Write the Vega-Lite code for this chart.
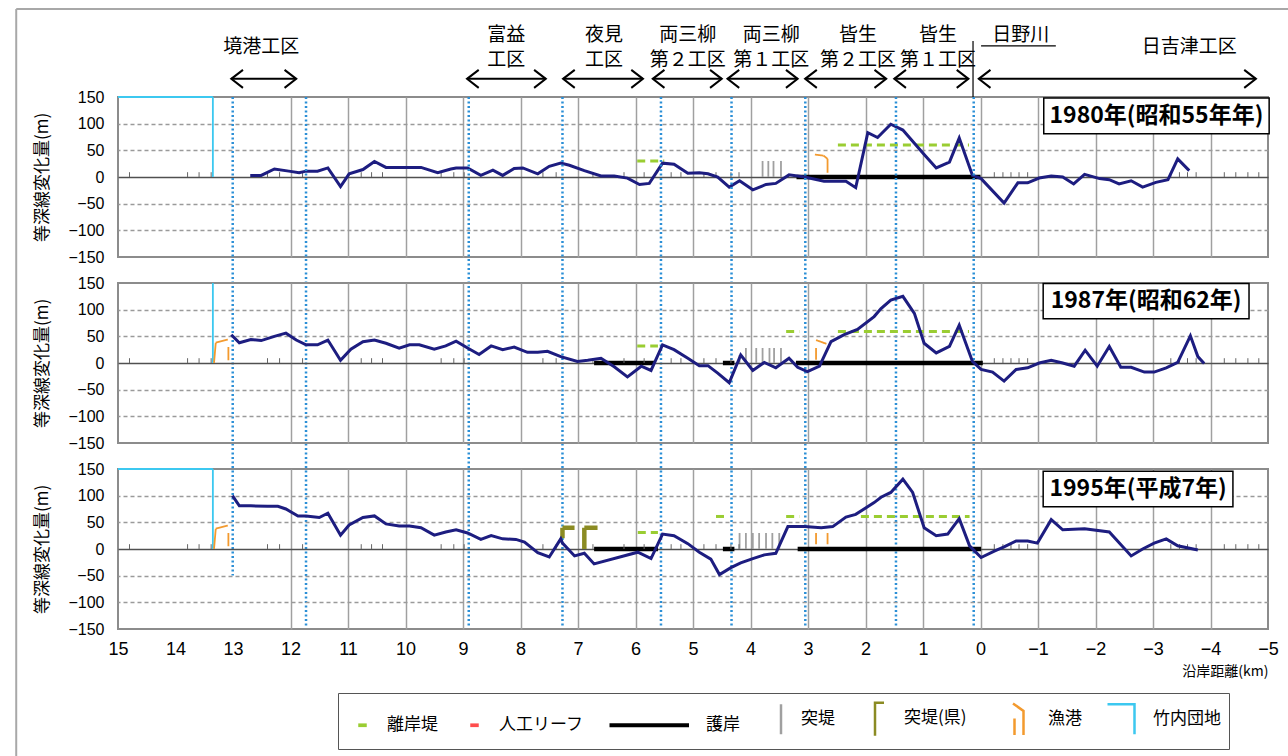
{
"$schema": "https://vega.github.io/schema/vega-lite/v6.json",
"padding": {"left": 14, "top": 7, "right": 0, "bottom": 0},
"background": "white",
"bounds": "flush",
"spacing": 26,
"config": {"view": {"stroke": "#8c8c8c", "strokeWidth": 2}, "font": "Noto Sans CJK JP"},
"resolve": {"scale": {"color": "shared", "shape": "shared"}, "legend": {"color": "shared", "shape": "shared"}},
"datasets": {
"lines": [
{"year":1980,"km":12.70,"v":3},{"year":1980,"km":12.51,"v":3},{"year":1980,"km":12.28,"v":15},{"year":1980,"km":12.03,"v":11},{"year":1980,"km":11.85,"v":8},{"year":1980,"km":11.73,"v":11},{"year":1980,"km":11.53,"v":11},{"year":1980,"km":11.35,"v":17},{"year":1980,"km":11.13,"v":-18},{"year":1980,"km":10.98,"v":6},{"year":1980,"km":10.74,"v":14},{"year":1980,"km":10.54,"v":29},{"year":1980,"km":10.34,"v":18},{"year":1980,"km":9.73,"v":18},{"year":1980,"km":9.44,"v":8},{"year":1980,"km":9.21,"v":15},{"year":1980,"km":9.12,"v":17},{"year":1980,"km":8.92,"v":17},{"year":1980,"km":8.69,"v":3},{"year":1980,"km":8.48,"v":13},{"year":1980,"km":8.31,"v":3},{"year":1980,"km":8.11,"v":16},{"year":1980,"km":7.96,"v":17},{"year":1980,"km":7.70,"v":6},{"year":1980,"km":7.50,"v":20},{"year":1980,"km":7.30,"v":26},{"year":1980,"km":7.15,"v":22},{"year":1980,"km":6.89,"v":12},{"year":1980,"km":6.60,"v":2},{"year":1980,"km":6.37,"v":2},{"year":1980,"km":6.14,"v":-2},{"year":1980,"km":5.93,"v":-14},{"year":1980,"km":5.76,"v":-12},{"year":1980,"km":5.53,"v":26},{"year":1980,"km":5.33,"v":24},{"year":1980,"km":5.09,"v":7},{"year":1980,"km":4.89,"v":8},{"year":1980,"km":4.74,"v":6},{"year":1980,"km":4.57,"v":0},{"year":1980,"km":4.37,"v":-19},{"year":1980,"km":4.19,"v":-7},{"year":1980,"km":3.96,"v":-24},{"year":1980,"km":3.73,"v":-14},{"year":1980,"km":3.56,"v":-12},{"year":1980,"km":3.33,"v":4},{"year":1980,"km":3.06,"v":0},{"year":1980,"km":2.72,"v":-8},{"year":1980,"km":2.34,"v":-8},{"year":1980,"km":2.17,"v":-20},{"year":1980,"km":1.96,"v":83},{"year":1980,"km":1.79,"v":74},{"year":1980,"km":1.56,"v":99},{"year":1980,"km":1.35,"v":88},{"year":1980,"km":0.98,"v":42},{"year":1980,"km":0.77,"v":17},{"year":1980,"km":0.54,"v":28},{"year":1980,"km":0.37,"v":73},{"year":1980,"km":0.14,"v":3},{"year":1980,"km":-0.01,"v":-3},{"year":1980,"km":-0.41,"v":-49},{"year":1980,"km":-0.65,"v":-11},{"year":1980,"km":-0.82,"v":-11},{"year":1980,"km":-1.02,"v":-2},{"year":1980,"km":-1.23,"v":2},{"year":1980,"km":-1.43,"v":0},{"year":1980,"km":-1.62,"v":-13},{"year":1980,"km":-1.81,"v":5},{"year":1980,"km":-2.07,"v":-3},{"year":1980,"km":-2.24,"v":-5},{"year":1980,"km":-2.41,"v":-13},{"year":1980,"km":-2.62,"v":-7},{"year":1980,"km":-2.82,"v":-19},{"year":1980,"km":-3.05,"v":-10},{"year":1980,"km":-3.26,"v":-5},{"year":1980,"km":-3.43,"v":34},{"year":1980,"km":-3.63,"v":12},
{"year":1987,"km":13.03,"v":53},{"year":1987,"km":12.89,"v":38},{"year":1987,"km":12.69,"v":44},{"year":1987,"km":12.51,"v":42},{"year":1987,"km":12.28,"v":50},{"year":1987,"km":12.08,"v":56},{"year":1987,"km":11.90,"v":43},{"year":1987,"km":11.73,"v":34},{"year":1987,"km":11.53,"v":34},{"year":1987,"km":11.35,"v":43},{"year":1987,"km":11.13,"v":5},{"year":1987,"km":10.95,"v":26},{"year":1987,"km":10.74,"v":40},{"year":1987,"km":10.54,"v":43},{"year":1987,"km":10.34,"v":37},{"year":1987,"km":10.11,"v":28},{"year":1987,"km":9.93,"v":34},{"year":1987,"km":9.76,"v":34},{"year":1987,"km":9.50,"v":26},{"year":1987,"km":9.30,"v":32},{"year":1987,"km":9.12,"v":41},{"year":1987,"km":8.92,"v":28},{"year":1987,"km":8.72,"v":16},{"year":1987,"km":8.51,"v":32},{"year":1987,"km":8.31,"v":25},{"year":1987,"km":8.11,"v":30},{"year":1987,"km":7.88,"v":20},{"year":1987,"km":7.70,"v":20},{"year":1987,"km":7.53,"v":22},{"year":1987,"km":7.30,"v":12},{"year":1987,"km":7.01,"v":3},{"year":1987,"km":6.83,"v":5},{"year":1987,"km":6.60,"v":9},{"year":1987,"km":6.37,"v":-7},{"year":1987,"km":6.14,"v":-26},{"year":1987,"km":5.90,"v":-6},{"year":1987,"km":5.73,"v":-14},{"year":1987,"km":5.53,"v":34},{"year":1987,"km":5.33,"v":25},{"year":1987,"km":5.09,"v":9},{"year":1987,"km":4.89,"v":-5},{"year":1987,"km":4.74,"v":-5},{"year":1987,"km":4.57,"v":-19},{"year":1987,"km":4.37,"v":-37},{"year":1987,"km":4.17,"v":15},{"year":1987,"km":3.96,"v":-14},{"year":1987,"km":3.76,"v":1},{"year":1987,"km":3.56,"v":-9},{"year":1987,"km":3.33,"v":9},{"year":1987,"km":3.18,"v":-8},{"year":1987,"km":3.01,"v":-16},{"year":1987,"km":2.80,"v":-6},{"year":1987,"km":2.60,"v":40},{"year":1987,"km":2.37,"v":53},{"year":1987,"km":2.14,"v":63},{"year":1987,"km":1.85,"v":87},{"year":1987,"km":1.73,"v":102},{"year":1987,"km":1.56,"v":118},{"year":1987,"km":1.35,"v":125},{"year":1987,"km":1.15,"v":93},{"year":1987,"km":0.98,"v":37},{"year":1987,"km":0.77,"v":19},{"year":1987,"km":0.54,"v":31},{"year":1987,"km":0.37,"v":71},{"year":1987,"km":0.14,"v":3},{"year":1987,"km":-0.01,"v":-12},{"year":1987,"km":-0.21,"v":-17},{"year":1987,"km":-0.41,"v":-34},{"year":1987,"km":-0.62,"v":-12},{"year":1987,"km":-0.82,"v":-9},{"year":1987,"km":-1.02,"v":0},{"year":1987,"km":-1.23,"v":5},{"year":1987,"km":-1.43,"v":0},{"year":1987,"km":-1.63,"v":-6},{"year":1987,"km":-1.82,"v":24},{"year":1987,"km":-2.03,"v":-6},{"year":1987,"km":-2.24,"v":31},{"year":1987,"km":-2.44,"v":-8},{"year":1987,"km":-2.62,"v":-8},{"year":1987,"km":-2.85,"v":-17},{"year":1987,"km":-3.02,"v":-17},{"year":1987,"km":-3.23,"v":-9},{"year":1987,"km":-3.43,"v":1},{"year":1987,"km":-3.65,"v":51},{"year":1987,"km":-3.78,"v":12},{"year":1987,"km":-3.89,"v":-1},
{"year":1995,"km":13.01,"v":100},{"year":1995,"km":12.89,"v":81},{"year":1995,"km":12.69,"v":81},{"year":1995,"km":12.40,"v":80},{"year":1995,"km":12.22,"v":80},{"year":1995,"km":12.08,"v":75},{"year":1995,"km":11.87,"v":62},{"year":1995,"km":11.73,"v":62},{"year":1995,"km":11.50,"v":59},{"year":1995,"km":11.35,"v":67},{"year":1995,"km":11.13,"v":26},{"year":1995,"km":10.98,"v":45},{"year":1995,"km":10.74,"v":59},{"year":1995,"km":10.54,"v":62},{"year":1995,"km":10.34,"v":47},{"year":1995,"km":10.11,"v":43},{"year":1995,"km":9.93,"v":43},{"year":1995,"km":9.73,"v":40},{"year":1995,"km":9.50,"v":26},{"year":1995,"km":9.30,"v":32},{"year":1995,"km":9.12,"v":36},{"year":1995,"km":8.92,"v":30},{"year":1995,"km":8.69,"v":18},{"year":1995,"km":8.51,"v":25},{"year":1995,"km":8.31,"v":19},{"year":1995,"km":8.08,"v":18},{"year":1995,"km":7.93,"v":13},{"year":1995,"km":7.70,"v":-7},{"year":1995,"km":7.50,"v":-15},{"year":1995,"km":7.30,"v":19},{"year":1995,"km":7.27,"v":11},{"year":1995,"km":7.06,"v":-13},{"year":1995,"km":6.89,"v":-8},{"year":1995,"km":6.72,"v":-28},{"year":1995,"km":5.96,"v":-6},{"year":1995,"km":5.73,"v":-18},{"year":1995,"km":5.53,"v":28},{"year":1995,"km":5.33,"v":25},{"year":1995,"km":5.09,"v":10},{"year":1995,"km":4.89,"v":-6},{"year":1995,"km":4.69,"v":-19},{"year":1995,"km":4.54,"v":-48},{"year":1995,"km":4.34,"v":-35},{"year":1995,"km":4.17,"v":-26},{"year":1995,"km":3.96,"v":-18},{"year":1995,"km":3.76,"v":-11},{"year":1995,"km":3.56,"v":-8},{"year":1995,"km":3.35,"v":42},{"year":1995,"km":3.06,"v":42},{"year":1995,"km":2.77,"v":40},{"year":1995,"km":2.57,"v":42},{"year":1995,"km":2.34,"v":60},{"year":1995,"km":2.17,"v":65},{"year":1995,"km":1.85,"v":87},{"year":1995,"km":1.73,"v":97},{"year":1995,"km":1.56,"v":106},{"year":1995,"km":1.35,"v":131},{"year":1995,"km":1.18,"v":106},{"year":1995,"km":0.98,"v":40},{"year":1995,"km":0.77,"v":25},{"year":1995,"km":0.57,"v":28},{"year":1995,"km":0.37,"v":57},{"year":1995,"km":0.19,"v":6},{"year":1995,"km":-0.01,"v":-16},{"year":1995,"km":-0.24,"v":-4},{"year":1995,"km":-0.41,"v":4},{"year":1995,"km":-0.62,"v":15},{"year":1995,"km":-0.82,"v":15},{"year":1995,"km":-0.99,"v":11},{"year":1995,"km":-1.23,"v":55},{"year":1995,"km":-1.43,"v":36},{"year":1995,"km":-1.81,"v":38},{"year":1995,"km":-2.24,"v":32},{"year":1995,"km":-2.62,"v":-13},{"year":1995,"km":-2.82,"v":0},{"year":1995,"km":-3.02,"v":11},{"year":1995,"km":-3.23,"v":19},{"year":1995,"km":-3.43,"v":6},{"year":1995,"km":-3.78,"v":-2}
],
"segs": [
{"year":1980,"type":"竹内団地","x":15,"x2":13.35,"y":150,"y2":150},{"year":1980,"type":"竹内団地","x":13.35,"x2":13.35,"y":150,"y2":0},
{"year":1980,"type":"漁港","x":2.88,"x2":2.73,"y":42,"y2":40},{"year":1980,"type":"漁港","x":2.73,"x2":2.66,"y":40,"y2":34},{"year":1980,"type":"漁港","x":2.66,"x2":2.66,"y":34,"y2":8},
{"year":1980,"type":"突堤","x":3.79,"x2":3.79,"y":0,"y2":30},{"year":1980,"type":"突堤","x":3.69,"x2":3.69,"y":0,"y2":30},{"year":1980,"type":"突堤","x":3.60,"x2":3.60,"y":0,"y2":30},{"year":1980,"type":"突堤","x":3.47,"x2":3.47,"y":0,"y2":30},
{"year":1980,"type":"離岸堤","x":5.97,"x2":5.50,"y":30,"y2":30},{"year":1980,"type":"離岸堤","x":2.48,"x2":0.20,"y":60,"y2":60},
{"year":1980,"type":"護岸","x":3.2,"x2":0.0,"y":0,"y2":0},
{"year":1987,"type":"竹内団地","x":13.35,"x2":13.35,"y":150,"y2":0},
{"year":1987,"type":"漁港","x":13.33,"x2":13.30,"y":0,"y2":38},{"year":1987,"type":"漁港","x":13.30,"x2":13.09,"y":38,"y2":44},{"year":1987,"type":"漁港","x":13.08,"x2":13.08,"y":30,"y2":5},{"year":1987,"type":"漁港","x":2.86,"x2":2.68,"y":43,"y2":36},{"year":1987,"type":"漁港","x":2.86,"x2":2.86,"y":28,"y2":6},
{"year":1987,"type":"突堤","x":4.19,"x2":4.19,"y":0,"y2":15},{"year":1987,"type":"突堤","x":4.08,"x2":4.08,"y":0,"y2":28},{"year":1987,"type":"突堤","x":3.90,"x2":3.90,"y":0,"y2":28},{"year":1987,"type":"突堤","x":3.79,"x2":3.79,"y":0,"y2":28},{"year":1987,"type":"突堤","x":3.67,"x2":3.67,"y":0,"y2":28},{"year":1987,"type":"突堤","x":3.59,"x2":3.59,"y":0,"y2":28},{"year":1987,"type":"突堤","x":3.47,"x2":3.47,"y":0,"y2":28},
{"year":1987,"type":"離岸堤","x":5.97,"x2":5.61,"y":32,"y2":32},{"year":1987,"type":"離岸堤","x":3.38,"x2":3.15,"y":59,"y2":59},{"year":1987,"type":"離岸堤","x":2.48,"x2":0.20,"y":59,"y2":59},
{"year":1987,"type":"護岸","x":6.72,"x2":5.67,"y":0,"y2":0},{"year":1987,"type":"護岸","x":4.48,"x2":4.28,"y":0,"y2":0},{"year":1987,"type":"護岸","x":3.21,"x2":-0.04,"y":0,"y2":0},
{"year":1995,"type":"竹内団地","x":15,"x2":13.35,"y":150,"y2":150},{"year":1995,"type":"竹内団地","x":13.35,"x2":13.35,"y":150,"y2":0},
{"year":1995,"type":"漁港","x":13.33,"x2":13.30,"y":0,"y2":38},{"year":1995,"type":"漁港","x":13.30,"x2":13.09,"y":38,"y2":44},{"year":1995,"type":"漁港","x":13.08,"x2":13.08,"y":30,"y2":5},{"year":1995,"type":"漁港","x":2.86,"x2":2.86,"y":30,"y2":9},{"year":1995,"type":"漁港","x":2.66,"x2":2.66,"y":30,"y2":9},
{"year":1995,"type":"突堤(県)","x":7.27,"x2":7.27,"y":20,"y2":40},{"year":1995,"type":"突堤(県)","x":7.27,"x2":7.06,"y":40,"y2":40},{"year":1995,"type":"突堤(県)","x":6.89,"x2":6.89,"y":0,"y2":40},{"year":1995,"type":"突堤(県)","x":6.89,"x2":6.66,"y":40,"y2":40},
{"year":1995,"type":"突堤","x":4.19,"x2":4.19,"y":0,"y2":30},{"year":1995,"type":"突堤","x":4.08,"x2":4.08,"y":0,"y2":30},{"year":1995,"type":"突堤","x":3.96,"x2":3.96,"y":0,"y2":30},{"year":1995,"type":"突堤","x":3.85,"x2":3.85,"y":0,"y2":30},{"year":1995,"type":"突堤","x":3.73,"x2":3.73,"y":0,"y2":30},{"year":1995,"type":"突堤","x":3.62,"x2":3.62,"y":0,"y2":30},{"year":1995,"type":"突堤","x":3.50,"x2":3.50,"y":0,"y2":30},
{"year":1995,"type":"離岸堤","x":5.96,"x2":5.61,"y":31,"y2":31},{"year":1995,"type":"離岸堤","x":4.60,"x2":4.40,"y":61,"y2":61},{"year":1995,"type":"離岸堤","x":3.38,"x2":3.15,"y":61,"y2":61},{"year":1995,"type":"離岸堤","x":2.08,"x2":0.19,"y":61,"y2":61},
{"year":1995,"type":"護岸","x":6.72,"x2":5.61,"y":0,"y2":0},{"year":1995,"type":"護岸","x":4.48,"x2":4.28,"y":0,"y2":0},{"year":1995,"type":"護岸","x":3.18,"x2":-0.01,"y":0,"y2":0}
],
"ticks": [{"km":14.80},{"km":13.79},{"km":13.59},{"km":13.38},{"km":12.40},{"km":12.19},{"km":11.79},{"km":10.77},{"km":10.59},{"km":10.40},{"km":9.38},{"km":9.16},{"km":8.98},{"km":7.61},{"km":7.38},{"km":6.74},{"km":6.20},{"km":5.85},{"km":5.38},{"km":5.21},{"km":4.81},{"km":4.60},{"km":4.34},{"km":4.20},{"km":-0.24},{"km":-0.39},{"km":-0.53},{"km":-0.67},{"km":-0.82},{"km":-3.31},{"km":-3.46},{"km":-3.60},{"km":-3.75},{"km":-4.24},{"km":-4.44},{"km":-4.65},{"km":-4.84}],
"bounds": [{"km":13.005},{"km":11.73},{"km":8.90},{"km":7.27},{"km":5.557},{"km":4.33},{"km":3.047},{"km":1.47},{"km":0.118}],
"header1": [{"label":"境港工区","x":12.51},{"label":"日吉津工区","x":-3.63}],
"header2": [{"label":"富益\n工区","x":8.25},{"label":"夜見\n工区","x":6.55},{"label":"両三柳\n第２工区","x":5.09},{"label":"両三柳\n第１工区","x":3.64},{"label":"皆生\n第２工区","x":2.13},{"label":"皆生\n第１工区","x":0.74}],
"arrows": [{"a":13.03,"b":11.90},{"a":8.93,"b":7.56},{"a":7.26,"b":5.87},{"a":5.70,"b":4.50},{"a":4.40,"b":3.18},{"a":3.05,"b":1.64},{"a":1.50,"b":0.21},{"a":0.03,"b":-4.79}]
},
"vconcat": [
{
"width": 1150, "height": 160,
"layer": [
{"data":{"name":"segs"},"transform":[{"filter":"datum.year == 1980"}],"mark":{"type":"rule"},
 "encoding":{
  "x":{"field":"x","type":"quantitative","scale":{"domain":[-5,15],"reverse":true,"nice":false,"zero":false},
       "axis":{"values":[15,14,13,12,11,10,9,8,7,6,5,4,3,2,1,0,-1,-2,-3,-4,-5],"tickCount":21,"format":"d","grid":true,"gridColor":{"condition":{"test":"datum.value > 12.5 || datum.value < -4.5","value":"transparent"},"value":"#a0a0a0"},"gridWidth":1.5,"labels":false,"ticks":false,"domain":false,"title":null}},
  "x2":{"field":"x2"},
  "y":{"field":"y","type":"quantitative","scale":{"domain":[-150,150],"nice":false,"zero":false},"title":"等深線変化量(m)",
       "axis":{"values":[-150,-100,-50,0,50,100,150],"tickCount":7,"format":"d","grid":true,"gridDash":{"condition":{"test":"datum.value == 0","value":[]},"value":[4,3]},"gridColor":{"condition":[{"test":"abs(datum.value) == 150","value":"transparent"},{"test":"datum.value == 0","value":"#505050"}],"value":"#9a9a9a"},"gridWidth":1.3,"ticks":false,"domain":false,"labelFontSize":16,"labelFont":"Liberation Sans","labelColor":"#000","labelPadding":14,"labelFlush":false,"labelOverlap":false,"titleFontSize":17,"titleFont":"Noto Sans CJK JP","titleFontWeight":"normal","titleColor":"#000","titlePadding":16}},
  "y2":{"field":"y2"},
  "color":{"field":"type","type":"nominal","scale":{"domain":["離岸堤","人工リーフ","護岸","突堤","突堤(県)","漁港","竹内団地"],"range":["#9acd32","#ff4d4d","#000000","#a0a0a0","#8b8b23","#f39a2e","#3cc8f0"]}},
  "strokeWidth":{"condition":[{"test":"datum.type == '護岸' || datum.type == '突堤(県)'","value":4.5},{"test":"datum.type == '離岸堤'","value":3}],"value":1.8},
  "strokeDash":{"condition":{"test":"datum.type == '離岸堤'","value":[8,5]},"value":[1,0]}
 }},
{"data":{"name":"ticks"},"mark":{"type":"rule","color":"#666","strokeWidth":1},"encoding":{"x":{"field":"km","type":"quantitative"},"y":{"datum":0},"y2":{"datum":9}}},
{"data":{"name":"lines"},"transform":[{"filter":"datum.year == 1980"}],"mark":{"type":"line","color":"#1d1d80","strokeWidth":3},"encoding":{"x":{"field":"km","type":"quantitative"},"y":{"field":"v","type":"quantitative"}}},
{"data":{"name":"bounds"},"transform":[{"filter":"datum.km != 13.005"}],"mark":{"type":"rule","color":"#2b8fd6","strokeWidth":2.5,"strokeDash":[2,2.5]},"encoding":{"x":{"field":"km","type":"quantitative"},"y":{"datum":150},"y2":{"datum":-847}}},
{"data":{"name":"bounds"},"transform":[{"filter":"datum.km == 13.005"}],"mark":{"type":"rule","color":"#2b8fd6","strokeWidth":2.5,"strokeDash":[2,2.5]},"encoding":{"x":{"field":"km","type":"quantitative"},"y":{"datum":150},"y2":{"datum":-747}}},
{"data":{"values":[{}]},"mark":{"type":"rect","fill":"white","stroke":"#000","strokeWidth":1.5},"encoding":{"x":{"datum":-1.10},"x2":{"datum":-5.02},"y":{"datum":148},"y2":{"datum":81}}},
{"data":{"values":[{}]},"mark":{"type":"text","fontSize":23,"fontWeight":"bold","color":"#000","font":"Noto Sans CJK JP"},"encoding":{"x":{"datum":-3.06},"y":{"datum":114},"text":{"value":"1980年(昭和55年年)"}}},
{"data":{"name":"header1"},"mark":{"type":"text","fontSize":19,"baseline":"middle","align":"center","color":"#000","font":"Noto Sans CJK JP"},"encoding":{"x":{"field":"x","type":"quantitative"},"y":{"datum":244},"text":{"field":"label"}}},
{"data":{"name":"header2"},"mark":{"type":"text","fontSize":19,"lineBreak":"\n","lineHeight":25,"baseline":"middle","align":"center","color":"#000","font":"Noto Sans CJK JP"},"encoding":{"x":{"field":"x","type":"quantitative"},"y":{"datum":267},"text":{"field":"label"}}},
{"data":{"values":[{}]},"mark":{"type":"text","fontSize":19,"baseline":"middle","color":"#000","font":"Noto Sans CJK JP"},"encoding":{"x":{"datum":-0.70},"y":{"datum":267},"text":{"value":"日野川"}}},
{"data":{"values":[{}]},"mark":{"type":"rule","color":"#000","strokeWidth":1.2},"encoding":{"x":{"datum":-0.01},"x2":{"datum":-1.31},"y":{"datum":246}}},
{"data":{"values":[{}]},"mark":{"type":"rule","color":"#000","strokeWidth":1.2},"encoding":{"x":{"datum":0.13},"y":{"datum":255},"y2":{"datum":150}}},
{"data":{"name":"arrows"},"mark":{"type":"rule","color":"#000","strokeWidth":2},"encoding":{"x":{"field":"a","type":"quantitative"},"x2":{"field":"b"},"y":{"datum":184}}},
{"data":{"name":"arrows"},"mark":{"type":"point","shape":"M1.3,-1L0,0L1.3,1","size":324,"filled":false,"strokeWidth":2,"color":"#000","opacity":1},"encoding":{"x":{"field":"a","type":"quantitative"},"y":{"datum":184}}},
{"data":{"name":"arrows"},"mark":{"type":"point","shape":"M-1.3,-1L0,0L-1.3,1","size":324,"filled":false,"strokeWidth":2,"color":"#000","opacity":1},"encoding":{"x":{"field":"b","type":"quantitative"},"y":{"datum":184}}},
{"data":{"values":[{}]},"mark":{"type":"rule","color":"#a8a8a8","strokeWidth":2},"encoding":{"x":{"datum":16.77},"y":{"datum":315},"y2":{"datum":-1086}}},
{"data":{"values":[{}]},"mark":{"type":"rule","color":"#a8a8a8","strokeWidth":2},"encoding":{"x":{"datum":16.77},"x2":{"datum":-5.35},"y":{"datum":315}}}
]
},
{
"width": 1150, "height": 160,
"layer": [
{"data":{"name":"segs"},"transform":[{"filter":"datum.year == 1987"}],"mark":{"type":"rule"},
 "encoding":{
  "x":{"field":"x","type":"quantitative","scale":{"domain":[-5,15],"reverse":true,"nice":false,"zero":false},
       "axis":{"values":[15,14,13,12,11,10,9,8,7,6,5,4,3,2,1,0,-1,-2,-3,-4,-5],"tickCount":21,"format":"d","grid":true,"gridColor":{"condition":{"test":"datum.value > 12.5 || datum.value < -4.5","value":"transparent"},"value":"#a0a0a0"},"gridWidth":1.5,"labels":false,"ticks":false,"domain":false,"title":null}},
  "x2":{"field":"x2"},
  "y":{"field":"y","type":"quantitative","scale":{"domain":[-150,150],"nice":false,"zero":false},"title":"等深線変化量(m)",
       "axis":{"values":[-150,-100,-50,0,50,100,150],"tickCount":7,"format":"d","grid":true,"gridDash":{"condition":{"test":"datum.value == 0","value":[]},"value":[4,3]},"gridColor":{"condition":[{"test":"abs(datum.value) == 150","value":"transparent"},{"test":"datum.value == 0","value":"#505050"}],"value":"#9a9a9a"},"gridWidth":1.3,"ticks":false,"domain":false,"labelFontSize":16,"labelFont":"Liberation Sans","labelColor":"#000","labelPadding":14,"labelFlush":false,"labelOverlap":false,"titleFontSize":17,"titleFont":"Noto Sans CJK JP","titleFontWeight":"normal","titleColor":"#000","titlePadding":16}},
  "y2":{"field":"y2"},
  "color":{"field":"type","type":"nominal","scale":{"domain":["離岸堤","人工リーフ","護岸","突堤","突堤(県)","漁港","竹内団地"],"range":["#9acd32","#ff4d4d","#000000","#a0a0a0","#8b8b23","#f39a2e","#3cc8f0"]}},
  "strokeWidth":{"condition":[{"test":"datum.type == '護岸' || datum.type == '突堤(県)'","value":4.5},{"test":"datum.type == '離岸堤'","value":3}],"value":1.8},
  "strokeDash":{"condition":{"test":"datum.type == '離岸堤'","value":[8,5]},"value":[1,0]}
 }},
{"data":{"name":"ticks"},"mark":{"type":"rule","color":"#666","strokeWidth":1},"encoding":{"x":{"field":"km","type":"quantitative"},"y":{"datum":0},"y2":{"datum":9}}},
{"data":{"name":"lines"},"transform":[{"filter":"datum.year == 1987"}],"mark":{"type":"line","color":"#1d1d80","strokeWidth":3},"encoding":{"x":{"field":"km","type":"quantitative"},"y":{"field":"v","type":"quantitative"}}},
{"data":{"values":[{}]},"mark":{"type":"rect","fill":"white","stroke":"#000","strokeWidth":1.5},"encoding":{"x":{"datum":-1.09},"x2":{"datum":-4.67},"y":{"datum":149},"y2":{"datum":83}}},
{"data":{"values":[{}]},"mark":{"type":"text","fontSize":23,"fontWeight":"bold","color":"#000","font":"Noto Sans CJK JP"},"encoding":{"x":{"datum":-2.88},"y":{"datum":116},"text":{"value":"1987年(昭和62年)"}}}
]
},
{
"width": 1150, "height": 160,
"layer": [
{"data":{"name":"segs"},"transform":[{"filter":"datum.year == 1995"}],"mark":{"type":"rule"},
 "encoding":{
  "x":{"field":"x","type":"quantitative","scale":{"domain":[-5,15],"reverse":true,"nice":false,"zero":false},"title":"沿岸距離(km)",
       "axis":{"values":[15,14,13,12,11,10,9,8,7,6,5,4,3,2,1,0,-1,-2,-3,-4,-5],"tickCount":21,"format":"d","grid":true,"gridColor":{"condition":{"test":"datum.value > 12.5 || datum.value < -4.5","value":"transparent"},"value":"#a0a0a0"},"gridWidth":1.5,"ticks":false,"domain":false,"labelFontSize":18,"labelFont":"Liberation Sans","labelColor":"#000","labelPadding":11,"labelFlush":false,"labelOverlap":false,"titleAnchor":"start","titleAlign":"right","titleFontSize":14,"titleFont":"Noto Sans CJK JP","titleFontWeight":"normal","titleColor":"#000","titlePadding":6}},
  "x2":{"field":"x2"},
  "y":{"field":"y","type":"quantitative","scale":{"domain":[-150,150],"nice":false,"zero":false},"title":"等深線変化量(m)",
       "axis":{"values":[-150,-100,-50,0,50,100,150],"tickCount":7,"format":"d","grid":true,"gridDash":{"condition":{"test":"datum.value == 0","value":[]},"value":[4,3]},"gridColor":{"condition":[{"test":"abs(datum.value) == 150","value":"transparent"},{"test":"datum.value == 0","value":"#505050"}],"value":"#9a9a9a"},"gridWidth":1.3,"ticks":false,"domain":false,"labelFontSize":16,"labelFont":"Liberation Sans","labelColor":"#000","labelPadding":14,"labelFlush":false,"labelOverlap":false,"titleFontSize":17,"titleFont":"Noto Sans CJK JP","titleFontWeight":"normal","titleColor":"#000","titlePadding":16}},
  "y2":{"field":"y2"},
  "color":{"field":"type","type":"nominal","scale":{"domain":["離岸堤","人工リーフ","護岸","突堤","突堤(県)","漁港","竹内団地"],"range":["#9acd32","#ff4d4d","#000000","#a0a0a0","#8b8b23","#f39a2e","#3cc8f0"]}},
  "strokeWidth":{"condition":[{"test":"datum.type == '護岸' || datum.type == '突堤(県)'","value":4.5},{"test":"datum.type == '離岸堤'","value":3}],"value":1.8},
  "strokeDash":{"condition":{"test":"datum.type == '離岸堤'","value":[8,5]},"value":[1,0]}
 }},
{"data":{"name":"ticks"},"mark":{"type":"rule","color":"#666","strokeWidth":1},"encoding":{"x":{"field":"km","type":"quantitative"},"y":{"datum":0},"y2":{"datum":9}}},
{"data":{"name":"lines"},"transform":[{"filter":"datum.year == 1995"}],"mark":{"type":"line","color":"#1d1d80","strokeWidth":3},"encoding":{"x":{"field":"km","type":"quantitative"},"y":{"field":"v","type":"quantitative"}}},
{"data":{"values":[{}]},"mark":{"type":"rect","fill":"white","stroke":"#000","strokeWidth":1.5},"encoding":{"x":{"datum":-1.09},"x2":{"datum":-4.39},"y":{"datum":146},"y2":{"datum":79}}},
{"data":{"values":[{}]},"mark":{"type":"text","fontSize":23,"fontWeight":"bold","color":"#000","font":"Noto Sans CJK JP"},"encoding":{"x":{"datum":-2.74},"y":{"datum":112},"text":{"value":"1995年(平成7年)"}}},
{"data":{"name":"segs"},"transform":[{"filter":"false"}],"mark":{"type":"point","filled":false,"opacity":1},
 "encoding":{
  "x":{"field":"x","type":"quantitative"},
  "y":{"field":"y","type":"quantitative"},
  "color":{"field":"type","type":"nominal","scale":{"domain":["離岸堤","人工リーフ","護岸","突堤","突堤(県)","漁港","竹内団地"],"range":["#9acd32","#ff4d4d","#000000","#a0a0a0","#8b8b23","#f39a2e","#3cc8f0"]},
    "legend":{"title":null,"orient":"none","legendX":220,"legendY":596,"direction":"horizontal","columns":7,"symbolSize":900,"symbolStrokeWidth":2.5,"symbolOpacity":1,"labelFontSize":17,"labelFont":"Noto Sans CJK JP","labelColor":"#000","labelOffset":8,"columnPadding":20,"strokeColor":"#555","fillColor":"white","padding":8,"labelLimit":200}},
  "shape":{"field":"type","type":"nominal","scale":{"domain":["離岸堤","人工リーフ","護岸","突堤","突堤(県)","漁港","竹内団地"],"range":["M-0.2,-0.04H0.2V0.04H-0.2Z","M-0.2,-0.04H0.2V0.04H-0.2Z","M-4.8,-0.05H0.5M-4.8,0.05H0.5","M0.3,-1V1","M-1.3,0M-0.3,1.2V-1H0.3","M-2.05,0M-0.7,-1L0,-0.5V1.1M-0.6,0V1.1","M-1.4,-1H0.4V1"]},
    "legend":{"title":null,"orient":"none","legendX":220,"legendY":596,"direction":"horizontal","columns":7,"symbolSize":900,"symbolStrokeWidth":2.5,"symbolOpacity":1,"labelFontSize":17,"labelFont":"Noto Sans CJK JP","labelColor":"#000","labelOffset":8,"columnPadding":20,"strokeColor":"#555","fillColor":"white","padding":8,"labelLimit":200}}
 }}
]
}
]
}
